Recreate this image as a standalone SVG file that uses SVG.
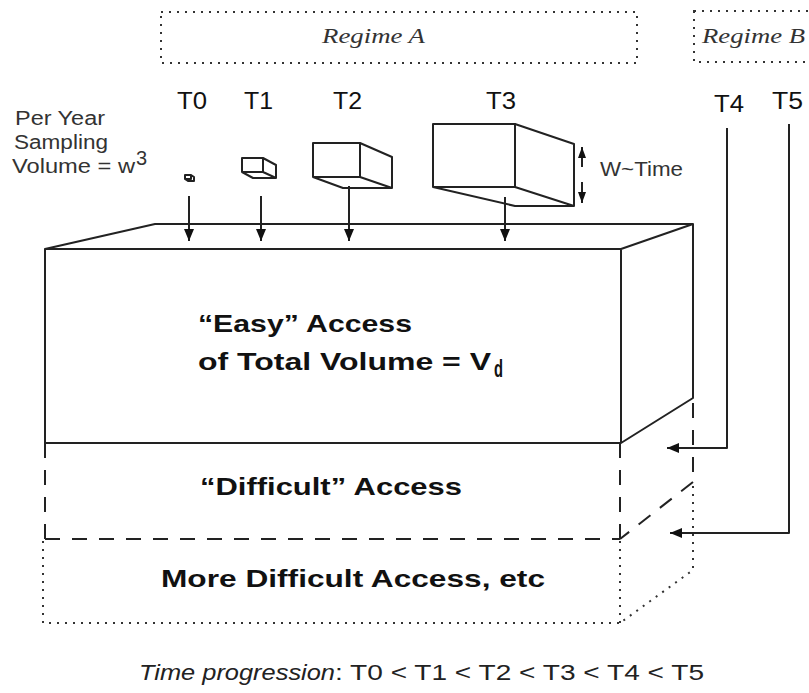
<svg xmlns="http://www.w3.org/2000/svg" width="809" height="693" viewBox="0 0 809 693">
<defs>
<marker id="ah" viewBox="0 0 12 10" refX="12" refY="5" markerWidth="12" markerHeight="10" markerUnits="userSpaceOnUse" orient="auto"><path d="M0,0 L12,5 L0,10 Z" fill="#111"/></marker>
<marker id="ahs" viewBox="0 0 11 8" refX="11" refY="4" markerWidth="11" markerHeight="8" markerUnits="userSpaceOnUse" orient="auto"><path d="M0,0 L11,4 L0,8 Z" fill="#111"/></marker>
</defs>
<style>
.ln{stroke:#222;stroke-width:2;fill:none;stroke-linejoin:round}
.dash{stroke:#222;stroke-width:2;fill:none;stroke-dasharray:15 12}
.dot{stroke:#333;stroke-width:2;fill:none;stroke-dasharray:2 6}
.reg{font-family:"Liberation Serif","Times New Roman",serif;font-style:italic;font-size:22px;fill:#333}
.t{font-family:"Liberation Sans",Arial,sans-serif;font-size:24px;fill:#111}
.lbl{font-family:"Liberation Sans",Arial,sans-serif;font-size:20px;fill:#333}
.b{font-family:"Liberation Sans",Arial,sans-serif;font-weight:bold;font-size:24px;fill:#111}
.ft{font-family:"Liberation Sans",Arial,sans-serif;font-size:22px;fill:#222}
</style>
<rect width="809" height="693" fill="#fff"/>

<g id="regime-a">
<rect class="dot" x="161" y="12" width="476" height="51"/>
<text class="reg" x="322" y="43" textLength="103" lengthAdjust="spacingAndGlyphs">Regime A</text>
</g>
<g id="regime-b">
<rect class="dot" x="694" y="11" width="130" height="51"/>
<text class="reg" x="702" y="43" textLength="103" lengthAdjust="spacingAndGlyphs">Regime B</text>
</g>

<g id="time-labels">
<text class="t" x="177" y="109" textLength="30" lengthAdjust="spacingAndGlyphs">T0</text>
<text class="t" x="244" y="109" textLength="29" lengthAdjust="spacingAndGlyphs">T1</text>
<text class="t" x="333" y="109" textLength="29" lengthAdjust="spacingAndGlyphs">T2</text>
<text class="t" x="486" y="109" textLength="30" lengthAdjust="spacingAndGlyphs">T3</text>
<text class="t" x="714" y="112" textLength="30" lengthAdjust="spacingAndGlyphs">T4</text>
<text class="t" x="772" y="109" textLength="31" lengthAdjust="spacingAndGlyphs">T5</text>
</g>

<g id="sampling-label">
<text class="lbl" x="15" y="125" textLength="90" lengthAdjust="spacingAndGlyphs">Per Year</text>
<text class="lbl" x="14" y="149" textLength="94" lengthAdjust="spacingAndGlyphs">Sampling</text>
<text class="lbl" x="12" y="173" textLength="123" lengthAdjust="spacingAndGlyphs">Volume = w</text>
<text class="lbl" x="136" y="165" font-size="13">3</text>
</g>

<g id="box-t0">
<path class="ln" stroke-width="1.5" d="M185,175 H191 V179 H185 Z M191,175 L194,177 V181 H188 L185,179"/>
</g>
<g id="box-t1">
<path class="ln" d="M242,158 H263 V172 H242 Z M263,158 L276,165 V178 H253 L242,172 M263,172 L276,178"/>
</g>
<g id="box-t2">
<path class="ln" d="M313,143 H360 V177 H313 Z M360,143 L392,157 V188 H343 L313,177 M360,177 L392,188"/>
</g>
<g id="box-t3">
<path class="ln" d="M433,124 H515 V187 H433 Z M515,124 L574,144 V206 H515 L433,187 M515,187 L574,206"/>
</g>

<g id="w-time">
<line class="ln" x1="582" y1="167" x2="582" y2="147" marker-end="url(#ahs)"/>
<line class="ln" x1="582" y1="182" x2="582" y2="203" marker-end="url(#ahs)"/>
<text class="lbl" x="600" y="176" font-size="18" textLength="83" lengthAdjust="spacingAndGlyphs">W~Time</text>
</g>

<g id="easy-access">
<path class="ln" d="M45,249 L155,224 H693 L621,249 Z M45,249 V443 H621 V249 M693,224 V398 L621,443"/>
<text class="b" x="198" y="332" textLength="214" lengthAdjust="spacingAndGlyphs">“Easy”  Access</text>
<text class="b" x="198" y="370" textLength="293" lengthAdjust="spacingAndGlyphs">of Total Volume = V</text>
<text class="b" x="494" y="377" font-size="15" textLength="9" lengthAdjust="spacingAndGlyphs">d</text>
</g>

<g id="difficult-access">
<path class="dash" d="M45,443 V539 M45,539 H620 M620,443 V539 M693,403 V482 M693,482 L620,539"/>
<text class="b" x="200" y="495" textLength="262" lengthAdjust="spacingAndGlyphs">“Difficult”  Access</text>
</g>

<g id="more-difficult-access">
<path class="dot" d="M43,541 V623 H620 M620,541 V623 M693,486 V570 L620,623"/>
<text class="b" x="161" y="587" textLength="384" lengthAdjust="spacingAndGlyphs">More Difficult Access, etc</text>
</g>

<g id="connectors">
<line class="ln" x1="189" y1="196" x2="189" y2="241" marker-end="url(#ah)"/>
<line class="ln" x1="261" y1="196" x2="261" y2="241" marker-end="url(#ah)"/>
<line class="ln" x1="349" y1="186" x2="349" y2="241" marker-end="url(#ah)"/>
<line class="ln" x1="505" y1="197" x2="505" y2="241" marker-end="url(#ah)"/>
<polyline class="ln" points="727,128 727,448 667,448" marker-end="url(#ah)"/>
<polyline class="ln" points="789,124 789,533 670,533" marker-end="url(#ah)"/>
</g>

<g id="caption">
<text class="ft" x="139" y="680" font-style="italic" textLength="196" lengthAdjust="spacingAndGlyphs">Time progression</text>
<text class="ft" x="335" y="680" textLength="369" lengthAdjust="spacingAndGlyphs">: T0 &lt; T1 &lt; T2 &lt; T3 &lt; T4 &lt; T5</text>
</g>
</svg>
